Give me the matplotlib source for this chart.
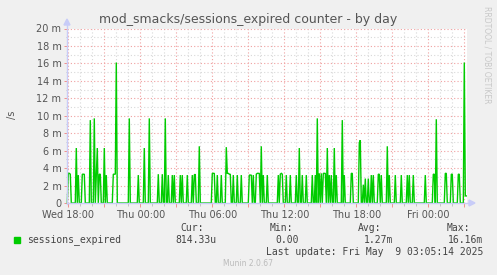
import datetime as dt
import numpy as np
import matplotlib
matplotlib.use("Agg")
import matplotlib.pyplot as plt
import matplotlib.dates as mdates
from matplotlib.ticker import MultipleLocator, FuncFormatter

# ---- data (values in milli-units per second) ----
start = dt.datetime(2025, 5, 7, 18, 0)   # Wed 18:00
step_min = 5
first_index, last_index = -1, 398
spike_index = [0, 1, 2, 8, 10, 14, 15, 16, 22, 26, 28, 29, 31, 32, 36, 38,
               45, 46, 47, 48, 61, 70, 76, 81, 90, 94, 97, 100, 104, 106,
               112, 114, 119, 124, 126, 127, 131, 144, 145, 146, 149, 153,
               158, 159, 160, 161, 162, 165, 169, 173, 181, 182, 183, 185,
               188, 189, 190, 191, 193, 195, 199, 210, 212, 213, 214, 218,
               222, 228, 231, 234, 238, 244, 247, 249, 251, 253, 255, 256,
               257, 259, 261, 263, 266, 268, 274, 276, 283, 284, 291, 292,
               295, 297, 300, 303, 305, 310, 311, 313, 319, 321, 327, 333,
               339, 341, 345, 357, 365, 366, 368, 377, 378, 383, 384, 390,
               391, 396, 397, 398]
spike_value = [3.4, 3.4, 3.3, 6.3, 3.2, 3.3, 3.3, 3.3, 9.5, 9.7, 3.3, 6.3,
               3.3, 3.3, 6.3, 3.2,
               3.3, 3.3, 3.3, 16.1, 9.7, 3.2, 6.3, 9.7, 3.3, 3.3, 9.7, 3.2,
               3.2, 3.2,
               3.2, 3.2, 3.2, 3.2, 3.2, 3.3, 6.5, 3.4, 3.4, 3.4, 3.2, 3.2,
               6.4, 3.4, 3.4, 3.3, 3.3, 3.2, 3.2, 3.2, 3.2, 3.2, 3.2, 3.2,
               3.3, 3.4, 3.4, 3.4, 6.5, 3.2, 3.2, 3.2, 3.3, 3.4, 3.3, 3.2,
               3.2, 3.2, 6.3, 3.2, 3.2, 3.2, 3.2, 9.7, 3.4, 3.4, 3.4, 3.4,
               3.4, 6.3, 3.2, 3.2, 6.3, 3.2, 9.5, 3.2, 3.4, 3.4, 6.9, 7.2,
               2.1, 2.8, 2.8, 3.2, 3.2, 3.3, 3.3, 3.2, 6.5, 3.2, 3.2, 3.2,
               3.2, 3.2, 3.2, 3.2, 3.3, 3.3, 9.6, 3.4, 3.4, 3.3, 3.3, 3.3,
               3.3, 16.1, 0.81, 0.81]
y_ticks_m = list(range(0, 21, 2))
legend_name = "sessions_expired"
stat_cur, stat_min, stat_avg, stat_max = "814.33u", "0.00", "1.27m", "16.16m"
title = "mod_smacks/sessions_expired counter - by day"
last_update = "Last update: Fri May  9 03:05:14 2025"

# ---- build series ----
idx = np.arange(first_index, last_index + 1)
vals = np.zeros(len(idx))
for k, v in zip(spike_index, spike_value):
    vals[k - first_index] = v
times = [start + dt.timedelta(minutes=step_min * int(k)) for k in idx]

# ---- figure ----
W, H = 497, 275
fig = plt.figure(figsize=(W / 100, H / 100), dpi=100, facecolor="#F0F0F0")
x0, x1, ytop, ybot = 67, 467, 28.5, 203
ax = fig.add_axes([x0 / W, 1 - ybot / H, (x1 - x0) / W, (ybot - ytop) / H])
ax.set_facecolor("white")

px_per_min = 12 / 60.0
t_left = start + dt.timedelta(minutes=(x0 - 68.3) / px_per_min)
t_right = start + dt.timedelta(minutes=(x1 - 68.3) / px_per_min)
ax.set_xlim(t_left, t_right)
ax.set_ylim(0, 20)

# grid
ax.xaxis.set_major_locator(mdates.HourLocator(byhour=range(0, 24, 3)))
ax.xaxis.set_minor_locator(mdates.HourLocator())
ax.xaxis.set_major_formatter(FuncFormatter(
    lambda x, p: mdates.num2date(x).strftime("%a %H:%M")
    if mdates.num2date(x).hour % 6 == 0 else ""))
ax.yaxis.set_major_locator(MultipleLocator(2))
ax.yaxis.set_minor_locator(MultipleLocator(1))
ax.yaxis.set_major_formatter(FuncFormatter(
    lambda v, p: "0" if abs(v) < 1e-9 else "%d m" % round(v)))

ax.grid(which="minor", color="#D8D8D8", linestyle=(0, (1, 2)), linewidth=0.8)
ax.grid(which="major", color="#F0A0A0", linestyle=(0, (1, 2)), linewidth=0.8)
ax.set_axisbelow(True)

for s in ax.spines.values():
    s.set_visible(False)

ax.tick_params(which="both", colors="#555555", labelsize=7, length=2,
               width=0.6, pad=2)
ax.tick_params(axis="x", which="major", colors="#F08080", labelcolor="#555555", length=3)
ax.tick_params(axis="y", which="major", colors="#F08080", labelcolor="#555555", length=2)
ax.tick_params(axis="x", which="minor", colors="#BBBBBB", length=2)
ax.tick_params(axis="y", which="minor", colors="#BBBBBB", length=1)

ax.plot(times, vals, color="#00CC00", linewidth=1.0, antialiased=True,
        solid_joinstyle="miter", clip_on=False, zorder=3)

# axes lines with arrows (figure coords)
axis_col = "#C8CCF8"
fig.add_artist(plt.Line2D([x0 / W, x0 / W], [1 - 204 / H, 1 - 24 / H],
                          color=axis_col, lw=1, zorder=2))
fig.add_artist(plt.Line2D([x0 / W, 470 / W], [1 - ybot / H, 1 - ybot / H],
                          color=axis_col, lw=1, zorder=2))
fig.patches.append(matplotlib.patches.Polygon(
    [[(x0 - 3) / W, 1 - 25 / H], [(x0 + 3) / W, 1 - 25 / H], [x0 / W, 1 - 19 / H]],
    closed=True, transform=fig.transFigure, color=axis_col, zorder=2))
fig.patches.append(matplotlib.patches.Polygon(
    [[469 / W, 1 - 200 / H], [469 / W, 1 - 206 / H], [475 / W, 1 - ybot / H]],
    closed=True, transform=fig.transFigure, color=axis_col, zorder=2))

# texts
fig.text(248.5 / W, 1 - 20 / H, title, ha="center", va="center",
         fontsize=9, color="#555555", family="DejaVu Sans")
fig.text(12 / W, 1 - 115 / H, "/s", rotation=90, ha="center", va="center",
         fontsize=7, color="#555555")
fig.text(487 / W, 1 - 55 / H, "RRDTOOL / TOBI OETIKER", rotation=270,
         ha="center", va="center", fontsize=5.5, color="#C8C8C8")

mono = "DejaVu Sans Mono"
tc = "#444444"
fig.patches.append(matplotlib.patches.Rectangle(
    (14 / W, 1 - 243 / H), 6 / W, 6 / H, transform=fig.transFigure,
    color="#00CC00"))
fig.text(27 / W, 1 - 240 / H, legend_name, ha="left", va="center",
         fontsize=7, family=mono, color=tc)
for lab, xr in [("Cur:", 204), ("Min:", 293), ("Avg:", 381), ("Max:", 470)]:
    fig.text(xr / W, 1 - 228 / H, lab, ha="right", va="center",
             fontsize=7, family=mono, color=tc)
for val, xr in [(stat_cur, 217), (stat_min, 299), (stat_avg, 393), (stat_max, 483)]:
    fig.text(xr / W, 1 - 240 / H, val, ha="right", va="center",
             fontsize=7, family=mono, color=tc)
fig.text(483 / W, 1 - 252 / H, last_update, ha="right", va="center",
         fontsize=7, family=mono, color=tc)
fig.text(248 / W, 1 - 264 / H, "Munin 2.0.67", ha="center", va="center",
         fontsize=5.5, color="#BBBBBB")

fig.savefig("out.png", dpi=100, facecolor=fig.get_facecolor())
